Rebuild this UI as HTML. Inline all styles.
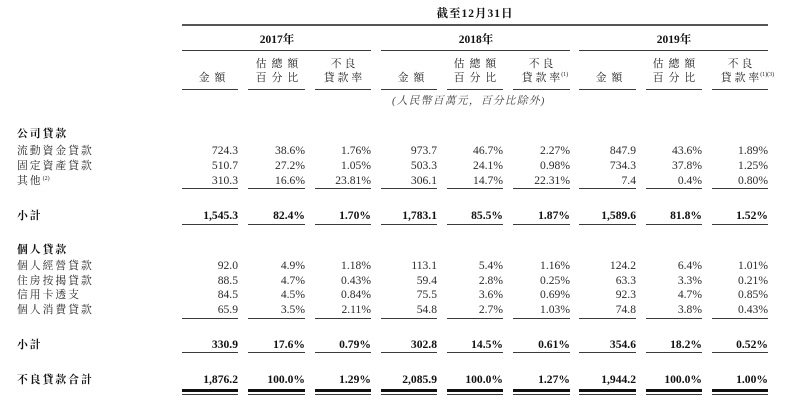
<!DOCTYPE html>
<html><head><meta charset="utf-8">
<style>
html,body{margin:0;padding:0;background:#fff;}
body{width:792px;height:404px;position:relative;overflow:hidden;
font-family:"Liberation Serif","Noto Serif CJK SC","Noto Serif CJK TC",serif;color:#2a2a2a;}
.a{position:absolute;white-space:nowrap;}
.ln{position:absolute;background:#3a3a3a;height:1px;}
.row{position:absolute;left:0;width:792px;height:16px;line-height:16px;font-size:11.6px;}
.row span{position:absolute;white-space:nowrap;}
.lab{left:17px;font-size:10.8px;letter-spacing:2px;}
.b{font-weight:bold;color:#111;}
.c1{right:554px}.c2{right:487px}.c3{right:421px}.c4{right:355px}.c5{right:289px}.c6{right:222px}.c7{right:156px}.c8{right:90px}.c9{right:24px}
.hd{position:absolute;width:80px;text-align:center;font-size:10.8px;line-height:14px;color:#222;white-space:nowrap;}
.hd span{letter-spacing:5px;padding-left:5px;position:relative;}
.hd.r span{letter-spacing:3px;padding-left:3px;}
.hd sup{position:absolute;left:100%;top:-1px;font-size:6px;line-height:8px;letter-spacing:0;margin-left:-2px;}
.lab sup{font-size:6px;vertical-align:top;position:relative;top:-2px;letter-spacing:0;}
.yr{position:absolute;width:190px;text-align:center;font-weight:bold;font-size:11.5px;line-height:14px;color:#111;}
</style></head><body>

<div class="a b" style="left:375px;width:200px;text-align:center;top:7px;line-height:14px;font-size:11.5px;letter-spacing:1px;">截至12月31日</div>
<div class="ln" style="left:182px;width:586px;top:24px;height:1.5px;background:#555;"></div>

<div class="yr" style="left:182px;top:33px;">2017年</div>
<div class="yr" style="left:381px;top:33px;">2018年</div>
<div class="yr" style="left:579px;top:33px;">2019年</div>
<div class="ln" style="left:182px;width:189px;top:50px;"></div>
<div class="ln" style="left:381px;width:189px;top:50px;"></div>
<div class="ln" style="left:579px;width:189px;top:50px;"></div>

<!-- column headers -->
<div class="hd" style="left:172px;top:71px;"><span>金額</span></div>
<div class="hd" style="left:237px;top:56.5px;"><span>估總額</span><br><span>百分比</span></div>
<div class="hd r" style="left:303px;top:56.5px;"><span>不良</span><br><span>貸款率</span></div>
<div class="hd" style="left:371px;top:71px;"><span>金額</span></div>
<div class="hd" style="left:435px;top:56.5px;"><span>估總額</span><br><span>百分比</span></div>
<div class="hd r" style="left:501px;top:56.5px;"><span>不良</span><br><span>貸款率<sup>(1)</sup></span></div>
<div class="hd" style="left:569px;top:71px;"><span>金額</span></div>
<div class="hd" style="left:634px;top:56.5px;"><span>估總額</span><br><span>百分比</span></div>
<div class="hd r" style="left:700px;top:56.5px;"><span>不良</span><br><span>貸款率<sup>(1)(3)</sup></span></div>

<div class="ln" style="left:182px;width:56px;top:89px;"></div>
<div class="ln" style="left:248px;width:57px;top:89px;"></div>
<div class="ln" style="left:315px;width:56px;top:89px;"></div>
<div class="ln" style="left:381px;width:56px;top:89px;"></div>
<div class="ln" style="left:447px;width:56px;top:89px;"></div>
<div class="ln" style="left:513px;width:57px;top:89px;"></div>
<div class="ln" style="left:579px;width:57px;top:89px;"></div>
<div class="ln" style="left:646px;width:56px;top:89px;"></div>
<div class="ln" style="left:712px;width:56px;top:89px;"></div>

<div class="a" style="left:392px;top:94px;line-height:15px;font-size:10.8px;letter-spacing:1.2px;font-style:italic;color:#444;">(人民幣百萬元，百分比除外)</div>

<!-- corporate loans -->
<div class="row" style="top:126px;"><span class="lab b">公司貸款</span></div>
<div class="row" style="top:142.5px;"><span class="lab">流動資金貸款</span>
<span class="c1">724.3</span><span class="c2">38.6%</span><span class="c3">1.76%</span>
<span class="c4">973.7</span><span class="c5">46.7%</span><span class="c6">2.27%</span>
<span class="c7">847.9</span><span class="c8">43.6%</span><span class="c9">1.89%</span></div>
<div class="row" style="top:157.5px;"><span class="lab">固定資產貸款</span>
<span class="c1">510.7</span><span class="c2">27.2%</span><span class="c3">1.05%</span>
<span class="c4">503.3</span><span class="c5">24.1%</span><span class="c6">0.98%</span>
<span class="c7">734.3</span><span class="c8">37.8%</span><span class="c9">1.25%</span></div>
<div class="row" style="top:172.5px;"><span class="lab">其他<sup>(2)</sup></span>
<span class="c1">310.3</span><span class="c2">16.6%</span><span class="c3">23.81%</span>
<span class="c4">306.1</span><span class="c5">14.7%</span><span class="c6">22.31%</span>
<span class="c7">7.4</span><span class="c8">0.4%</span><span class="c9">0.80%</span></div>

<div class="ln" style="left:182px;width:56px;top:188px;"></div>
<div class="ln" style="left:248px;width:57px;top:188px;"></div>
<div class="ln" style="left:315px;width:56px;top:188px;"></div>
<div class="ln" style="left:381px;width:56px;top:188px;"></div>
<div class="ln" style="left:447px;width:56px;top:188px;"></div>
<div class="ln" style="left:513px;width:57px;top:188px;"></div>
<div class="ln" style="left:579px;width:57px;top:188px;"></div>
<div class="ln" style="left:646px;width:56px;top:188px;"></div>
<div class="ln" style="left:712px;width:56px;top:188px;"></div>

<div class="row b" style="top:208px;"><span class="lab b">小計</span>
<span class="c1">1,545.3</span><span class="c2">82.4%</span><span class="c3">1.70%</span>
<span class="c4">1,783.1</span><span class="c5">85.5%</span><span class="c6">1.87%</span>
<span class="c7">1,589.6</span><span class="c8">81.8%</span><span class="c9">1.52%</span></div>

<div class="ln" style="left:182px;width:56px;top:224px;"></div>
<div class="ln" style="left:248px;width:57px;top:224px;"></div>
<div class="ln" style="left:315px;width:56px;top:224px;"></div>
<div class="ln" style="left:381px;width:56px;top:224px;"></div>
<div class="ln" style="left:447px;width:56px;top:224px;"></div>
<div class="ln" style="left:513px;width:57px;top:224px;"></div>
<div class="ln" style="left:579px;width:57px;top:224px;"></div>
<div class="ln" style="left:646px;width:56px;top:224px;"></div>
<div class="ln" style="left:712px;width:56px;top:224px;"></div>

<!-- personal loans -->
<div class="row" style="top:241.5px;"><span class="lab b">個人貸款</span></div>
<div class="row" style="top:257.5px;"><span class="lab">個人經營貸款</span>
<span class="c1">92.0</span><span class="c2">4.9%</span><span class="c3">1.18%</span>
<span class="c4">113.1</span><span class="c5">5.4%</span><span class="c6">1.16%</span>
<span class="c7">124.2</span><span class="c8">6.4%</span><span class="c9">1.01%</span></div>
<div class="row" style="top:272.5px;"><span class="lab">住房按揭貸款</span>
<span class="c1">88.5</span><span class="c2">4.7%</span><span class="c3">0.43%</span>
<span class="c4">59.4</span><span class="c5">2.8%</span><span class="c6">0.25%</span>
<span class="c7">63.3</span><span class="c8">3.3%</span><span class="c9">0.21%</span></div>
<div class="row" style="top:287px;"><span class="lab">信用卡透支</span>
<span class="c1">84.5</span><span class="c2">4.5%</span><span class="c3">0.84%</span>
<span class="c4">75.5</span><span class="c5">3.6%</span><span class="c6">0.69%</span>
<span class="c7">92.3</span><span class="c8">4.7%</span><span class="c9">0.85%</span></div>
<div class="row" style="top:302px;"><span class="lab">個人消費貸款</span>
<span class="c1">65.9</span><span class="c2">3.5%</span><span class="c3">2.11%</span>
<span class="c4">54.8</span><span class="c5">2.7%</span><span class="c6">1.03%</span>
<span class="c7">74.8</span><span class="c8">3.8%</span><span class="c9">0.43%</span></div>

<div class="ln" style="left:182px;width:56px;top:318px;"></div>
<div class="ln" style="left:248px;width:57px;top:318px;"></div>
<div class="ln" style="left:315px;width:56px;top:318px;"></div>
<div class="ln" style="left:381px;width:56px;top:318px;"></div>
<div class="ln" style="left:447px;width:56px;top:318px;"></div>
<div class="ln" style="left:513px;width:57px;top:318px;"></div>
<div class="ln" style="left:579px;width:57px;top:318px;"></div>
<div class="ln" style="left:646px;width:56px;top:318px;"></div>
<div class="ln" style="left:712px;width:56px;top:318px;"></div>

<div class="row b" style="top:336.5px;"><span class="lab b">小計</span>
<span class="c1">330.9</span><span class="c2">17.6%</span><span class="c3">0.79%</span>
<span class="c4">302.8</span><span class="c5">14.5%</span><span class="c6">0.61%</span>
<span class="c7">354.6</span><span class="c8">18.2%</span><span class="c9">0.52%</span></div>

<div class="ln" style="left:182px;width:56px;top:352px;"></div>
<div class="ln" style="left:248px;width:57px;top:352px;"></div>
<div class="ln" style="left:315px;width:56px;top:352px;"></div>
<div class="ln" style="left:381px;width:56px;top:352px;"></div>
<div class="ln" style="left:447px;width:56px;top:352px;"></div>
<div class="ln" style="left:513px;width:57px;top:352px;"></div>
<div class="ln" style="left:579px;width:57px;top:352px;"></div>
<div class="ln" style="left:646px;width:56px;top:352px;"></div>
<div class="ln" style="left:712px;width:56px;top:352px;"></div>

<div class="row b" style="top:372px;"><span class="lab b">不良貸款合計</span>
<span class="c1">1,876.2</span><span class="c2">100.0%</span><span class="c3">1.29%</span>
<span class="c4">2,085.9</span><span class="c5">100.0%</span><span class="c6">1.27%</span>
<span class="c7">1,944.2</span><span class="c8">100.0%</span><span class="c9">1.00%</span></div>

<!-- double underline -->
<div class="ln" style="left:182px;width:56px;top:389px;height:3px;background:#111;"></div>
<div class="ln" style="left:248px;width:57px;top:389px;height:3px;background:#111;"></div>
<div class="ln" style="left:315px;width:56px;top:389px;height:3px;background:#111;"></div>
<div class="ln" style="left:381px;width:56px;top:389px;height:3px;background:#111;"></div>
<div class="ln" style="left:447px;width:56px;top:389px;height:3px;background:#111;"></div>
<div class="ln" style="left:513px;width:57px;top:389px;height:3px;background:#111;"></div>
<div class="ln" style="left:579px;width:57px;top:389px;height:3px;background:#111;"></div>
<div class="ln" style="left:646px;width:56px;top:389px;height:3px;background:#111;"></div>
<div class="ln" style="left:712px;width:56px;top:389px;height:3px;background:#111;"></div>

<div class="ln" style="left:182px;width:56px;top:394px;"></div>
<div class="ln" style="left:248px;width:57px;top:394px;"></div>
<div class="ln" style="left:315px;width:56px;top:394px;"></div>
<div class="ln" style="left:381px;width:56px;top:394px;"></div>
<div class="ln" style="left:447px;width:56px;top:394px;"></div>
<div class="ln" style="left:513px;width:57px;top:394px;"></div>
<div class="ln" style="left:579px;width:57px;top:394px;"></div>
<div class="ln" style="left:646px;width:56px;top:394px;"></div>
<div class="ln" style="left:712px;width:56px;top:394px;"></div>

</body></html>
